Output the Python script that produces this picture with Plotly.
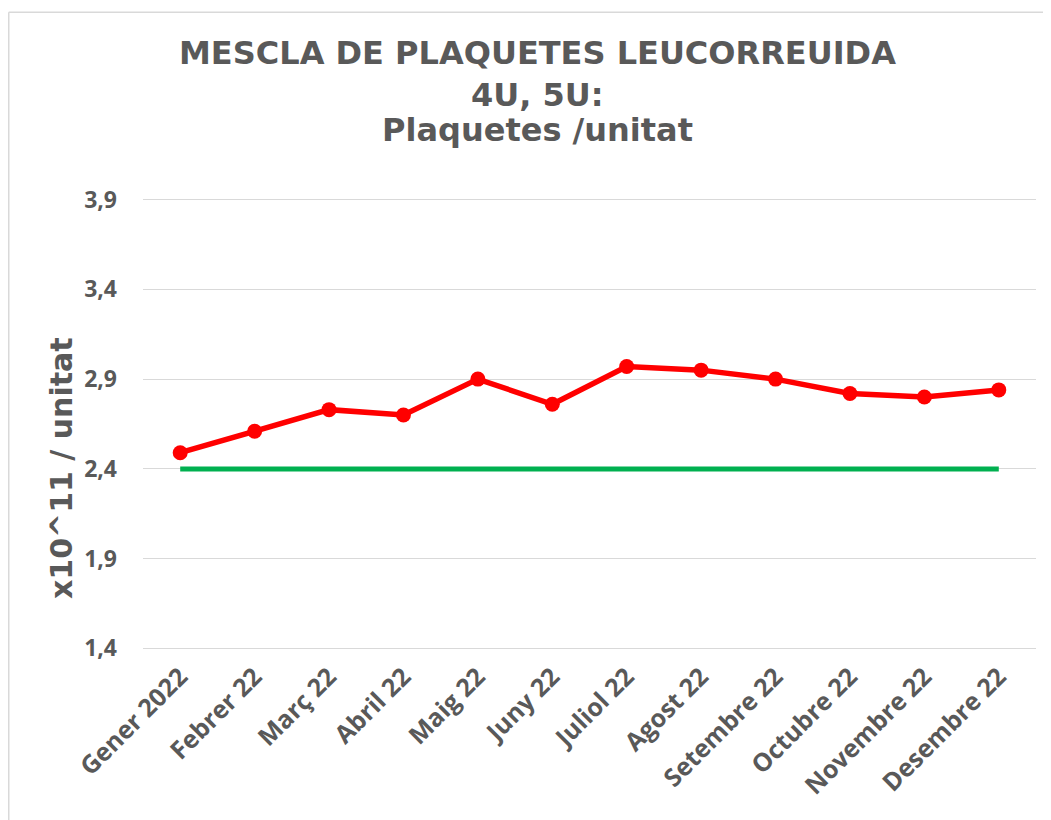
import plotly.graph_objects as go

months = ["Gener 2022", "Febrer 22", "Març 22", "Abril 22", "Maig 22", "Juny 22",
          "Juliol 22", "Agost 22", "Setembre 22", "Octubre 22", "Novembre 22", "Desembre 22"]
plaquetes = [2.49, 2.61, 2.73, 2.70, 2.90, 2.76, 2.97, 2.95, 2.90, 2.82, 2.80, 2.84]
limit = [2.4] * 12

y_ticks = [1.4, 1.9, 2.4, 2.9, 3.4, 3.9]
y_range = [1.38, 3.92]
title_lines = ["MESCLA DE PLAQUETES LEUCORREUIDA", "4U, 5U:", "Plaquetes /unitat"]
y_title = "x10^11 / unitat"

GRAY = "#595959"
TFONT = "DejaVu Sans"
LFONT = "Open Sans"

# page body has an 8px margin; work in screen coordinates and shift
OFF = 8
W, H = 1051 - OFF, 820 - OFF
# screen pixel of 3.9 gridline = 200, of 1.4 gridline = 648
ppu = (648 - 200) / (3.9 - 1.4)
plot_l, plot_r = 143, 1036
plot_t = 200 - (y_range[1] - 3.9) * ppu
plot_b = 648 + (1.4 - y_range[0]) * ppu
L = plot_l - OFF
R = W - (plot_r - OFF)
T = plot_t - OFF
B = H - (plot_b - OFF)
pw, ph = W - L - R, H - T - B


def px(x):
    return (x - OFF - L) / pw


def py(y):
    return (H - B - (y - OFF)) / ph


fig = go.Figure()
fig.add_trace(go.Scatter(x=months, y=limit, mode="lines",
                         line=dict(color="#00B050", width=5), hoverinfo="skip"))
fig.add_trace(go.Scatter(x=months, y=plaquetes, mode="lines+markers",
                         line=dict(color="#FF0000", width=5.5),
                         marker=dict(color="#FF0000", size=15)))

title_y = [54, 96, 131]
annotations = [
    dict(text=t, xref="paper", yref="paper", x=px(537), y=py(yy),
         xanchor="center", yanchor="middle", showarrow=False,
         font=dict(family=TFONT, size=32, color=GRAY, weight="bold"))
    for t, yy in zip(title_lines, title_y)
]
annotations.append(
    dict(text=y_title, xref="paper", yref="paper", x=px(61), y=py(468),
         xanchor="center", yanchor="middle", showarrow=False, textangle=-90,
         font=dict(family=TFONT, size=30, color=GRAY, weight="bold"))
)

fig.update_layout(
    width=W, height=H, autosize=False,
    margin=dict(l=L, r=R, t=T, b=B),
    paper_bgcolor="white", plot_bgcolor="white",
    showlegend=False,
    separators=", ",
    font=dict(family=LFONT, color=GRAY),
    annotations=annotations,
    xaxis=dict(
        type="category", tickangle=-45, showgrid=False, showline=False,
        ticks="", ticklabelstandoff=4,
        tickfont=dict(family=LFONT, size=25, color=GRAY, weight="bold"),
        range=[-0.5, 11.5],
    ),
    yaxis=dict(
        range=y_range, tickvals=y_ticks, tickformat=".1f",
        showgrid=True, gridcolor="#D9D9D9", gridwidth=1, zeroline=False,
        showline=False, ticks="", ticklabelstandoff=25,
        tickfont=dict(family=LFONT, size=23, color=GRAY, weight="bold"),
    ),
    shapes=[
        dict(type="line", xref="paper", yref="paper", x0=px(8.75), x1=px(8.75),
             y0=py(13), y1=py(840), line=dict(color="#D9D9D9", width=1.5)),
        dict(type="line", xref="paper", yref="paper", x0=px(8.75), x1=px(1070),
             y0=py(13), y1=py(13), line=dict(color="#D9D9D9", width=1.5)),
    ],
)

fig.write_html("out.html")
